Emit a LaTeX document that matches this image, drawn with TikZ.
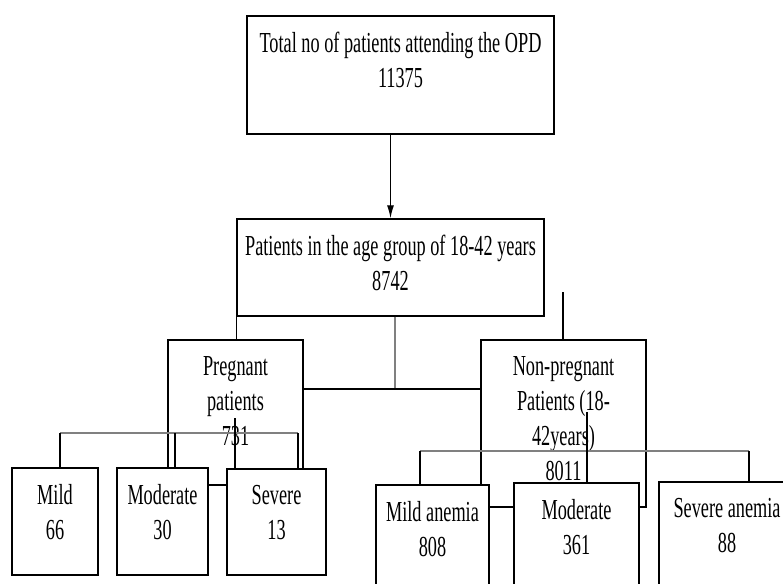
\documentclass[tikz,border=0pt]{standalone}
\usepackage{fontspec}
\setmainfont{Liberation Serif}[FakeStretch=0.63]
\usetikzlibrary{arrows.meta}
\usetikzlibrary{positioning}

\begin{document}
\begin{tikzpicture}[x=1pt,y=-1pt,
  box/.style={draw,rectangle,fill=white,line width=1.4pt,inner sep=0pt},
  lbl/.style={anchor=north,align=center,inner sep=0pt,yshift=-17pt,font=\fontsize{29}{35}\selectfont},
  ln/.style={line width=1.2pt},
  bar/.style={gray,line width=2pt}]
\clip (0,0) rectangle (783,583);
\node[box,minimum width=307pt,minimum height=118pt,label={[lbl]north:{Total no of patients attending the OPD\\11375}}] (total) at (400.5,75){};
\node[box,minimum width=307pt,minimum height=97pt,label={[lbl]north:{Patients in the age group of 18-42 years\\8742}}] (agegrp) at (390.5,267.5){};
\node[box,minimum width=135pt,minimum height=145pt,label={[lbl]north:{Pregnant\\patients\\731}}] (preg) at (235.5,412.5){};
\node[box,minimum width=165pt,minimum height=167pt,label={[lbl]north:{Non-pregnant\\Patients (18-\\42years)\\8011}}] (npreg) at (563.5,423.5){};
% bottom row, left
\node[box,minimum width=86pt,minimum height=107pt,label={[lbl]north:{Mild\\66}}] (mild) at (55,521.5){};
\node[box,minimum width=91pt,minimum height=107pt,label={[lbl]north:{Moderate\\30}}] (moder) at (162.5,521.5){};
\node[box,minimum width=99pt,minimum height=106pt,label={[lbl]north:{Severe\\13}}] (sev) at (276.5,522){};
% bottom row, right
\node[box,minimum width=113pt,minimum height=107pt,label={[lbl]north:{Mild anemia\\808}}] (manem) at (432.5,538.5){};
\node[box,minimum width=125pt,minimum height=107pt,label={[lbl]north:{Moderate\\361}}] (moder2) at (576.5,536.5){};
\node[box,minimum width=136pt,minimum height=107pt,label={[lbl]north:{Severe anemia\\88}}] (sanem) at (727,535.5){};
\coordinate (split) at (395,389);
\coordinate (nptop) at (563,292);
\coordinate (pl) at (60,433);
\coordinate (pm) at (175,433);
\coordinate (pr) at (298,433);
\coordinate (pc) at (235,418);
\coordinate (nl) at (420,451);
\coordinate (nr) at (749,451);
\coordinate (nc) at (587,412);
\draw[ln,-{Latex[length=13pt,width=7pt]}] (total.south -| agegrp.north) -- (agegrp.north);
\draw[ln,gray] (split |- agegrp.south) -- (split);
\draw[ln] (agegrp.south west) -- (agegrp.south west |- preg.north);
\draw[ln] (nptop) -- (nptop |- npreg.north);
\draw[ln] (preg.east |- split) -- (npreg.west |- split);
\draw[bar] (pl) -- (pr);
\draw[ln] (pl) -- (pl |- mild.north);
\draw[ln] (pm) -- (pm |- moder.north);
\draw[ln] (pr) -- (pr |- sev.north);
\draw[ln] (pc) -- (pc |- sev.north);
\draw[bar] (nl) -- (nr);
\draw[ln] (nl) -- (nl |- manem.north);
\draw[ln] (nr) -- (nr |- sanem.north);
\draw[ln] (nc) -- (nc |- moder2.north);
\end{tikzpicture}
\end{document}
